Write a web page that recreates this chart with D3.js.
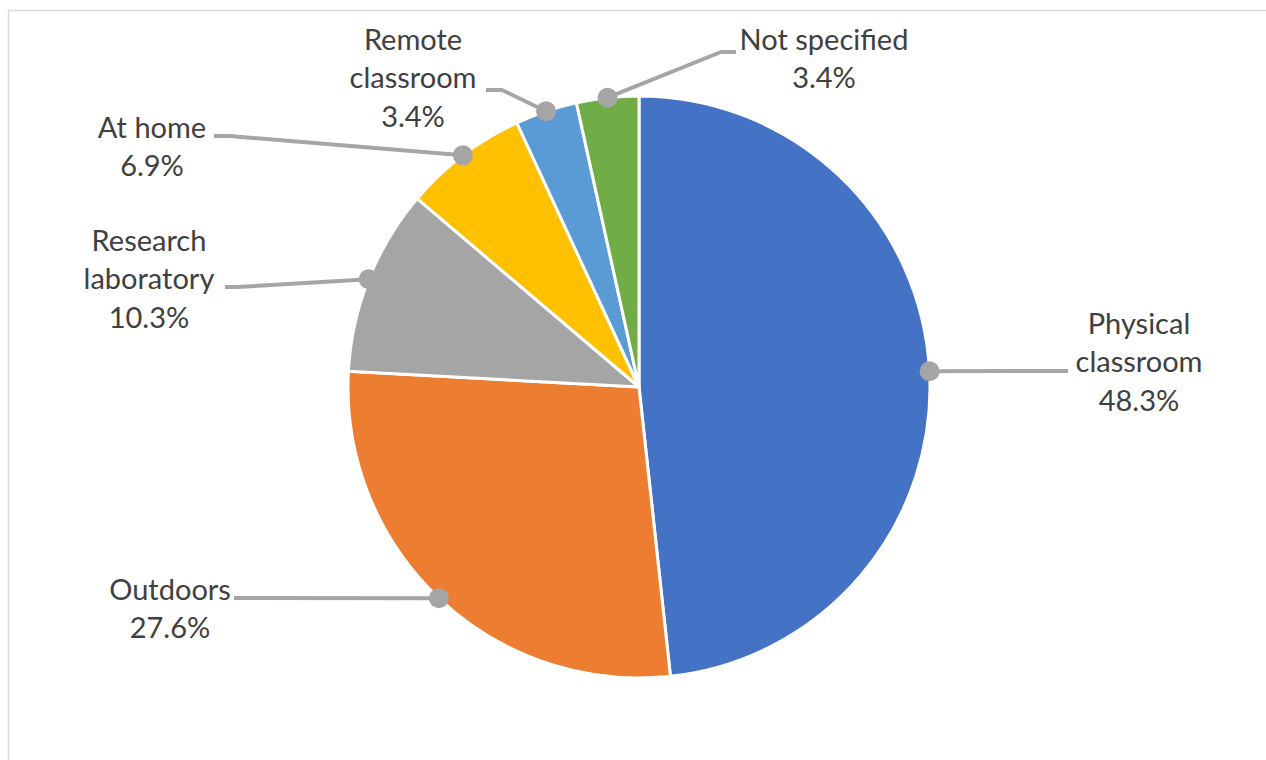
<!DOCTYPE html>
<html>
<head>
<meta charset="utf-8">
<script src="https://cdn.jsdelivr.net/npm/d3@7"></script>
<style>
  html, body { margin: 0; padding: 0; background: #fff; }
  svg { display: block; }
</style>
</head>
<body>
<svg id="chart" width="1266" height="760"></svg>
<script>
// ---- Data ----
const categories = ["Physical classroom", "Outdoors", "Research laboratory", "At home", "Remote classroom", "Not specified"];
const counts = [14, 8, 3, 2, 1, 1];
const percentLabels = ["48.3%", "27.6%", "10.3%", "6.9%", "3.4%", "3.4%"];
const labelLines = [["Physical", "classroom"], ["Outdoors"], ["Research", "laboratory"], ["At home"], ["Remote", "classroom"], ["Not specified"]];
const colors = ["#4472C4", "#ED7D31", "#A5A5A5", "#FFC000", "#5B9BD5", "#70AD47"];

// ---- Layout (label placement, as dragged in the original) ----
const labelCenters = [[1139, 322], [170, 588], [149, 239], [152, 126], [413, 38], [824, 38]];
const leaderEnds = [
  [[1068, 371]],
  [[234, 598]],
  [[225, 287], [237, 287]],
  [[214, 136], [230, 136]],
  [[486, 90], [502, 90]],
  [[736, 52], [721, 52]]
];

const svg = d3.select("#chart");
const cx = 639, cy = 387, R = 291;
const fontSize = 29, lineGap = 38.5;

// chart frame
svg.append("rect")
  .attr("x", 8.5).attr("y", 10.5)
  .attr("width", 1400).attr("height", 900)
  .attr("fill", "none").attr("stroke", "#D9D9D9").attr("stroke-width", 1.5);

const pie = d3.pie().sort(null).value(d => d)(counts);
const arc = d3.arc().innerRadius(0).outerRadius(R);

const g = svg.append("g").attr("transform", `translate(${cx},${cy})`);
g.selectAll("path.slice").data(pie).join("path")
  .attr("class", "slice")
  .attr("d", arc)
  .attr("fill", (d, i) => colors[i])
  .attr("stroke", "#fff")
  .attr("stroke-width", 3)
  .attr("stroke-linejoin", "round");

// leader lines and dots
pie.forEach((d, i) => {
  const a = (d.startAngle + d.endAngle) / 2;
  const px = cx + R * Math.sin(a), py = cy - R * Math.cos(a);
  const pts = leaderEnds[i].concat([[px, py]]);
  svg.append("path")
    .attr("d", d3.line()(pts))
    .attr("fill", "none")
    .attr("stroke", "#A5A5A5")
    .attr("stroke-width", 4)
    .attr("stroke-linejoin", "round");
  svg.append("circle")
    .attr("cx", px).attr("cy", py).attr("r", 10)
    .attr("fill", "#A5A5A5");
});

// labels
categories.forEach((c, i) => {
  const lines = labelLines[i].concat([percentLabels[i]]);
  const [lx, ly] = labelCenters[i];
  const t = svg.append("text")
    .attr("text-anchor", "middle")
    .attr("font-family", "Lato, 'Open Sans', sans-serif")
    .attr("font-size", fontSize)
    .attr("fill", "#404040");
  lines.forEach((s, k) => {
    t.append("tspan")
      .attr("x", lx)
      .attr("y", ly + k * lineGap)
      .attr("dominant-baseline", "central")
      .text(s);
  });
});
</script>
</body>
</html>
